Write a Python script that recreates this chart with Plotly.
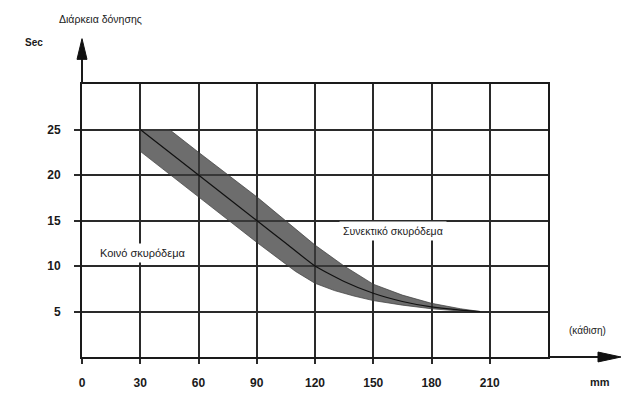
import numpy as np
import plotly.graph_objects as go

# Data
x_ticks = [0, 30, 60, 90, 120, 150, 180, 210]
y_ticks = [5, 10, 15, 20, 25]

center_x = [30, 60, 90, 105, 120, 135, 150, 165, 180, 195, 205]
center_y = [25, 20, 15, 12.5, 10, 8.3, 7.0, 6.1, 5.5, 5.15, 5.0]

upper_x = [30, 45, 60, 90, 120, 135, 150, 165, 180, 195, 205]
upper_y = [25, 25, 22.5, 17.6, 12.3, 10.0, 8.0, 6.8, 5.9, 5.3, 5.0]

lower_x = [30, 60, 90, 100, 110, 120, 130, 140, 150, 165, 180, 195, 205]
lower_y = [22.6, 17.6, 12.6, 11.0, 9.4, 8.1, 7.3, 6.7, 6.2, 5.7, 5.3, 5.05, 5.0]

X_MAX, Y_MAX = 240, 30

font_main = "Liberation Sans, Arial, sans-serif"

band_x = np.concatenate([upper_x, lower_x[::-1]])
band_y = np.concatenate([upper_y, lower_y[::-1]])

fig = go.Figure()
fig.add_trace(go.Scatter(x=band_x, y=band_y, fill="toself", mode="lines",
                         line=dict(color="rgba(60,60,60,0.7)", width=1),
                         fillcolor="rgba(60,60,60,0.75)", hoverinfo="skip",
                         showlegend=False))
fig.add_trace(go.Scatter(x=center_x, y=center_y, mode="lines",
                         line=dict(color="#111", width=1.2, shape="spline", smoothing=0.5),
                         showlegend=False))

W, H = 623, 402
ml, mr, mt, mb = 82, 75, 84, 41
pw = W - ml - mr
ph = H - mt - mb

tickfont = dict(size=12, family=font_main, color="#1a1a1a", weight="bold")

fig.update_layout(
    width=W, height=H,
    margin=dict(l=ml, r=mr, t=mt, b=mb),
    paper_bgcolor="white", plot_bgcolor="white",
    font=dict(family=font_main, color="#1a1a1a"),
    xaxis=dict(range=[0, X_MAX], tickvals=x_ticks, ticktext=[str(v) for v in x_ticks],
               showgrid=True, gridcolor="#2a2a2a", gridwidth=2,
               showline=True, linecolor="#1a1a1a", linewidth=2, mirror=True,
               ticks="outside", ticklen=5, tickwidth=2, tickcolor="#2a2a2a",
               ticklabelstandoff=9, zeroline=False, tickfont=tickfont),
    yaxis=dict(range=[0, Y_MAX], tickvals=y_ticks, ticktext=[str(v) for v in y_ticks],
               showgrid=True, gridcolor="#2a2a2a", gridwidth=2,
               showline=True, linecolor="#1a1a1a", linewidth=2, mirror=True,
               ticks="outside", ticklen=6, tickwidth=2, tickcolor="#2a2a2a",
               ticklabelstandoff=11, zeroline=False, tickfont=tickfont),
)

def px_x(p):
    return (p - ml) / pw

def px_y(p):
    return (H - mb - p) / ph

shapes = []
# y axis extension and arrowhead
shapes.append(dict(type="line", xref="paper", yref="paper", x0=0, x1=0, y0=1, y1=px_y(58),
                   line=dict(color="#1a1a1a", width=2)))
shapes.append(dict(type="path", xref="paper", yref="paper",
                   path=f"M {px_x(77)} {px_y(59)} L {px_x(82)} {px_y(38)} L {px_x(87)} {px_y(59)} Z",
                   fillcolor="#111", line=dict(color="#111", width=1)))
# x axis extension and arrowhead
shapes.append(dict(type="line", xref="paper", yref="paper", x0=1, x1=px_x(600), y0=0, y1=0,
                   line=dict(color="#1a1a1a", width=2)))
shapes.append(dict(type="path", xref="paper", yref="paper",
                   path=f"M {px_x(598)} {px_y(356)} L {px_x(621)} {px_y(361)} L {px_x(598)} {px_y(366)} Z",
                   fillcolor="#111", line=dict(color="#111", width=1)))
fig.update_layout(shapes=shapes)

ann = [
    dict(text="Διάρκεια δόνησης", x=px_x(57), y=px_y(18), size=10.5, weight="normal"),
    dict(text="Sec", x=px_x(23), y=px_y(42), size=10, weight="bold"),
    dict(text="(κάθιση)", x=px_x(567), y=px_y(334), size=10, weight="normal"),
    dict(text="mm", x=px_x(588), y=px_y(386), size=11, weight="bold"),
]
annotations = []
for a in ann:
    annotations.append(dict(text=a["text"], xref="paper", yref="paper", x=a["x"], y=a["y"],
                            xanchor="left", yanchor="middle", showarrow=False,
                            font=dict(size=a["size"], family=font_main, color="#1a1a1a",
                                      weight=a["weight"])))
annotations.append(dict(text="Κοινό σκυρόδεμα", xref="paper", yref="paper",
                        x=px_x(96), y=px_y(255), xanchor="left", yanchor="middle",
                        showarrow=False, bgcolor="white", borderpad=3,
                        font=dict(size=11, family=font_main, color="#1a1a1a")))
annotations.append(dict(text="Συνεκτικό σκυρόδεμα", xref="paper", yref="paper",
                        x=px_x(339), y=px_y(233), xanchor="left", yanchor="middle",
                        showarrow=False, bgcolor="white", borderpad=3,
                        font=dict(size=10.5, family=font_main, color="#1a1a1a")))
fig.update_layout(annotations=annotations)

fig.write_html("out.html")
